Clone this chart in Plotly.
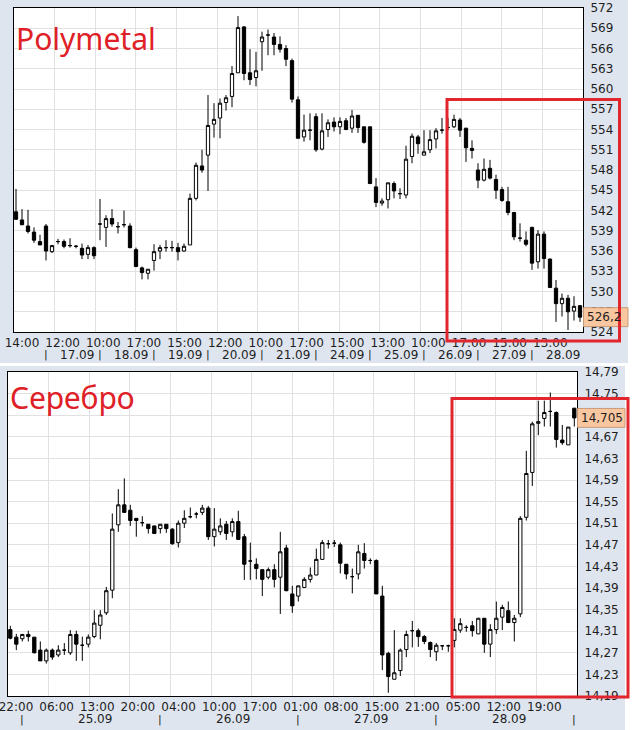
import plotly.graph_objects as go
import numpy as np

W, H = 637, 730

# ---------------- Polymetal (hourly candles) ----------------
poly_open = [541.8, 540.6, 539.7, 538.8, 537.4, 539.7, 535.9, 537.4, 537.4, 536.8,
             536.7, 536.4, 535.5, 536.5, 540.0, 539.5, 540.8, 539.6, 539.9, 539.7,
             536.2, 533.5, 532.7, 534.6, 536.0, 536.5, 536.5, 536.5, 536.0, 536.9,
             543.8, 548.6, 550.2, 554.8, 555.7, 558.0, 558.9, 562.4, 569.2, 562.4,
             561.7, 567.0, 568.0, 567.7, 566.6, 566.0, 564.2, 558.4, 552.9, 553.9,
             555.9, 551.1, 554.0, 555.1, 554.4, 555.3, 554.2, 556.1, 554.4, 554.4,
             545.5, 543.1, 543.6, 546.0, 544.5, 544.3, 550.0, 552.9, 550.2, 551.0,
             552.6, 553.9, 554.3, 554.4, 555.4, 554.2, 551.2, 548.0, 546.5, 548.25,
             546.6, 545.1, 543.3, 541.7, 537.9, 537.6, 539.5, 534.4, 538.5, 534.8,
             530.5, 528.2, 529.0, 527.1, 527.9]
poly_high = [545.2, 542.2, 542.1, 539.5, 538.4, 540.0, 536.9, 537.8, 537.7, 537.9,
             536.9, 537.1, 536.9, 536.7, 543.7, 541.3, 542.2, 540.3, 542.0, 540.1,
             536.5, 533.7, 533.3, 537.0, 536.9, 537.6, 537.5, 537.2, 537.1, 544.5,
             549.1, 551.0, 559.1, 557.9, 558.6, 559.1, 563.4, 570.8, 569.3, 565.9,
             565.5, 568.5, 568.8, 568.3, 567.8, 566.5, 564.5, 558.9, 556.2, 556.4,
             556.4, 556.4, 555.5, 555.8, 555.8, 555.7, 556.9, 556.1, 554.4, 554.4,
             546.8, 543.8, 546.1, 546.3, 545.3, 551.6, 553.4, 553.2, 553.9, 553.9,
             554.2, 555.7, 555.7, 556.2, 555.7, 554.2, 552.4, 549.0, 549.7, 549.5,
             547.3, 545.5, 545.5, 541.8, 540.1, 538.9, 539.6, 539.1, 538.9, 534.9,
             531.7, 529.7, 529.5, 529.3, 528.0]
poly_low = [540.6, 539.8, 538.6, 537.2, 536.9, 534.6, 535.7, 537.0, 536.4, 536.5,
            536.4, 534.8, 534.8, 534.8, 537.6, 536.6, 539.6, 538.6, 539.5, 536.4,
            533.6, 531.8, 531.8, 533.1, 534.8, 535.9, 535.9, 534.6, 535.9, 536.9,
            543.5, 547.6, 544.9, 552.8, 552.7, 556.8, 557.3, 562.4, 561.3, 560.6,
            560.4, 562.7, 565.0, 565.0, 565.4, 563.4, 558.0, 552.7, 552.2, 552.4,
            550.7, 550.9, 552.9, 553.7, 553.3, 553.9, 553.5, 553.5, 551.9, 545.9,
            542.5, 542.7, 542.3, 543.8, 543.7, 543.8, 549.0, 550.4, 550.2, 550.5,
            551.2, 553.4, 553.9, 554.2, 552.9, 549.2, 549.7, 545.3, 546.3, 546.6,
            543.7, 543.3, 541.3, 537.6, 537.4, 536.7, 533.2, 533.4, 533.4, 530.5,
            525.5, 526.3, 524.3, 525.7, 525.5]
poly_close = [540.7, 539.9, 538.9, 537.6, 536.9, 536.0, 536.8, 537.4, 536.7, 536.8,
              536.7, 535.4, 536.5, 535.3, 540.0, 540.8, 540.0, 539.6, 539.9, 536.5,
              533.7, 532.8, 533.3, 535.9, 536.5, 536.5, 536.5, 535.9, 536.7, 543.8,
              548.7, 548.0, 554.6, 555.5, 557.9, 558.7, 562.3, 569.1, 562.3, 561.4,
              562.7, 567.7, 568.0, 566.6, 565.9, 564.4, 558.5, 552.7, 553.9, 553.9,
              551.0, 553.8, 555.0, 554.4, 555.2, 554.0, 556.0, 554.3, 552.1, 546.0,
              543.2, 543.4, 546.1, 544.9, 544.5, 549.6, 553.0, 551.9, 550.7, 552.5,
              553.8, 553.9, 554.3, 555.5, 553.9, 551.3, 550.9, 546.5, 548.1, 546.8,
              545.0, 543.5, 541.7, 538.1, 537.9, 537.0, 534.2, 538.5, 534.9, 530.6,
              528.2, 529.0, 527.0, 527.8, 526.2]
poly_times = ["14:00", "12:00", "10:00", "17:00", "15:00", "12:00", "10:00",
              "17:00", "15:00", "13:00", "10:00", "17:00", "15:00", "13:00"]
poly_days = ["17.09", "18.09", "19.09", "20.09", "21.09", "24.09",
             "25.09", "26.09", "27.09", "28.09"]
poly_day_start = [5, 14, 23, 32, 41, 50, 59, 68, 77, 86]

# ---------------- Silver (hourly candles) ----------------
silv_open = [14.313, 14.299, 14.296, 14.304, 14.299, 14.275, 14.255, 14.275, 14.266, 14.275,
             14.270, 14.304, 14.284, 14.286, 14.300, 14.321, 14.344, 14.386, 14.507, 14.544,
             14.534, 14.519, 14.511, 14.508, 14.505, 14.500, 14.508, 14.499, 14.474, 14.510,
             14.522, 14.527, 14.530, 14.538, 14.485, 14.494, 14.508, 14.494, 14.513, 14.485,
             14.440, 14.434, 14.424, 14.410, 14.424, 14.410, 14.464, 14.379, 14.375, 14.391,
             14.406, 14.414, 14.443, 14.472, 14.473, 14.470, 14.434, 14.411, 14.416, 14.454,
             14.441, 14.441, 14.375, 14.269, 14.221, 14.237, 14.276, 14.311, 14.311, 14.300,
             14.289, 14.272, 14.283, 14.283, 14.293, 14.312, 14.317, 14.320, 14.305, 14.334,
             14.286, 14.313, 14.336, 14.348, 14.326, 14.342, 14.521, 14.604, 14.695, 14.704,
             14.717, 14.715, 14.664, 14.655, 14.723]
silv_high = [14.320, 14.305, 14.305, 14.311, 14.299, 14.291, 14.278, 14.278, 14.284, 14.288,
             14.312, 14.311, 14.300, 14.304, 14.349, 14.349, 14.392, 14.528, 14.573, 14.593,
             14.544, 14.519, 14.523, 14.508, 14.505, 14.508, 14.508, 14.501, 14.515, 14.534,
             14.539, 14.531, 14.544, 14.542, 14.538, 14.519, 14.514, 14.519, 14.533, 14.490,
             14.474, 14.445, 14.424, 14.428, 14.434, 14.494, 14.470, 14.394, 14.394, 14.410,
             14.428, 14.463, 14.479, 14.479, 14.479, 14.474, 14.434, 14.426, 14.470, 14.473,
             14.445, 14.443, 14.394, 14.272, 14.312, 14.278, 14.311, 14.329, 14.315, 14.303,
             14.291, 14.288, 14.284, 14.285, 14.334, 14.334, 14.321, 14.329, 14.334, 14.334,
             14.323, 14.365, 14.359, 14.365, 14.340, 14.523, 14.644, 14.698, 14.737, 14.737,
             14.752, 14.717, 14.692, 14.688, 14.723]
silv_low = [14.295, 14.275, 14.291, 14.291, 14.269, 14.255, 14.250, 14.257, 14.262, 14.266,
            14.266, 14.255, 14.255, 14.280, 14.297, 14.295, 14.340, 14.371, 14.494, 14.530,
            14.505, 14.485, 14.504, 14.491, 14.490, 14.491, 14.492, 14.470, 14.465, 14.501,
            14.519, 14.519, 14.525, 14.479, 14.467, 14.488, 14.479, 14.485, 14.479, 14.405,
            14.405, 14.406, 14.375, 14.406, 14.391, 14.342, 14.384, 14.344, 14.365, 14.391,
            14.400, 14.414, 14.442, 14.463, 14.466, 14.417, 14.406, 14.380, 14.406, 14.426,
            14.434, 14.379, 14.238, 14.196, 14.221, 14.227, 14.262, 14.280, 14.281, 14.286,
            14.262, 14.255, 14.275, 14.272, 14.280, 14.307, 14.309, 14.300, 14.305, 14.270,
            14.262, 14.305, 14.312, 14.325, 14.291, 14.336, 14.515, 14.579, 14.673, 14.689,
            14.689, 14.650, 14.655, 14.655, 14.689]
silv_close = [14.297, 14.286, 14.304, 14.300, 14.270, 14.255, 14.275, 14.262, 14.275, 14.275,
              14.304, 14.286, 14.284, 14.299, 14.325, 14.340, 14.385, 14.499, 14.544, 14.530,
              14.515, 14.515, 14.511, 14.500, 14.491, 14.508, 14.500, 14.472, 14.510, 14.519,
              14.522, 14.527, 14.538, 14.485, 14.499, 14.505, 14.491, 14.513, 14.480, 14.434,
              14.440, 14.426, 14.406, 14.424, 14.406, 14.457, 14.385, 14.357, 14.394, 14.406,
              14.414, 14.443, 14.474, 14.472, 14.473, 14.436, 14.416, 14.411, 14.457, 14.441,
              14.441, 14.379, 14.266, 14.226, 14.233, 14.275, 14.304, 14.311, 14.300, 14.291,
              14.276, 14.284, 14.283, 14.283, 14.313, 14.324, 14.317, 14.311, 14.334, 14.286,
              14.313, 14.334, 14.354, 14.326, 14.334, 14.519, 14.602, 14.694, 14.698, 14.715,
              14.717, 14.665, 14.659, 14.688, 14.705]
silv_times = ["22:00", "06:00", "13:00", "20:00", "04:00", "10:00", "17:00",
              "01:00", "08:00", "15:00", "21:00", "05:00", "12:00", "19:00"]
silv_days = ["25.09", "26.09", "27.09", "28.09"]
silv_day_start = [2, 25, 48, 71, 94]

# ---------------- styling ----------------
PANEL = "#dee5ef"
GRID = "#e1e1e1"
RED = "#e2262d"
TXT = "#1e1e1e"
FONT = "DejaVu Sans"


def px(x):
    return x / W


def py(y):
    return 1 - y / H


fig = go.Figure()

candle_style = dict(
    increasing=dict(line=dict(color="black", width=1), fillcolor="white"),
    decreasing=dict(line=dict(color="black", width=1), fillcolor="black"),
    whiskerwidth=0,
    hoverinfo="skip",
)

xi_p = list(range(len(poly_open)))
xi_s = list(range(len(silv_open)))

fig.add_trace(go.Candlestick(x=xi_p, open=poly_open, high=poly_high, low=poly_low,
                             close=poly_close, xaxis="x", yaxis="y", **candle_style))
fig.add_trace(go.Candlestick(x=xi_s, open=silv_open, high=silv_high, low=silv_low,
                             close=silv_close, xaxis="x2", yaxis="y2", **candle_style))

# x ranges (candle index units), plot pixel layout
rng_p = [-0.333, 94.5]
rng_s = [-0.383, 94.45]


def xgrid(rng, n_lab):
    edges = np.linspace(rng[0], rng[1], n_lab + 1)
    grid = edges[1:-1]
    labs = edges[:-1] + 1.33
    return list(grid), list(labs)


grid_p, lab_p = xgrid(rng_p, len(poly_times))
grid_s, lab_s = xgrid(rng_s, len(silv_times))

axfont = dict(family=FONT, size=12, color=TXT)

common_x = dict(showgrid=False, showline=True, mirror=True, linecolor="black",
                linewidth=1, ticks="", tickfont=axfont, zeroline=False,
                rangeslider=dict(visible=False), fixedrange=True, automargin=False,
                ticklabeloverflow="allow")
common_y = dict(showgrid=True, gridcolor=GRID, gridwidth=1, showline=True, mirror=True,
                linecolor="black", linewidth=1, ticks="", side="right",
                tickfont=axfont, zeroline=False, fixedrange=True, ticklabelstandoff=4,
                automargin=False)

fig.update_layout(
    width=W, height=H, autosize=False,
    margin=dict(l=0, r=0, t=0, b=0, pad=0, autoexpand=False),
    paper_bgcolor=PANEL, plot_bgcolor="white",
    showlegend=False, separators=", ", boxgap=0.22,
    xaxis=dict(domain=[px(14), px(583)], range=rng_p, anchor="y",
               tickmode="array", tickvals=lab_p, ticktext=poly_times,
               minor=dict(tickmode="array", tickvals=grid_p, showgrid=True,
                          gridcolor=GRID, ticks=""),
               **common_x),
    yaxis=dict(domain=[py(332), py(8)], range=[524, 572], anchor="x",
               tickmode="linear", tick0=524, dtick=3, **common_y),
    xaxis2=dict(domain=[px(8), px(577)], range=rng_s, anchor="y2",
                tickmode="array", tickvals=lab_s, ticktext=silv_times,
                minor=dict(tickmode="array", tickvals=grid_s, showgrid=True,
                           gridcolor=GRID, ticks=""),
                **common_x),
    yaxis2=dict(domain=[py(696), py(372)], range=[14.19, 14.79], anchor="x2",
                tickmode="linear", tick0=14.19, dtick=0.04, tickformat=".2f", **common_y),
)

shapes = []
# white strips around the two panels
shapes.append(dict(type="rect", xref="paper", yref="paper", x0=px(628), x1=1, y0=py(363), y1=1,
                   fillcolor="white", line=dict(width=0), layer="below"))
shapes.append(dict(type="rect", xref="paper", yref="paper", x0=px(625), x1=1, y0=0, y1=py(366),
                   fillcolor="white", line=dict(width=0), layer="below"))
shapes.append(dict(type="rect", xref="paper", yref="paper", x0=0, x1=1, y0=py(366), y1=py(363),
                   fillcolor="white", line=dict(width=0), layer="below"))

# last-price boxes
shapes.append(dict(type="rect", xref="paper", yref="y", x0=px(583.5), x1=px(628),
                   y0=poly_close[-1] - 1.4, y1=poly_close[-1] + 1.4,
                   fillcolor="#f8c7a0", line=dict(color="#c99a78", width=1), layer="above"))
shapes.append(dict(type="rect", xref="paper", yref="y2", x0=px(577.5), x1=px(625),
                   y0=silv_close[-1] - 0.0175, y1=silv_close[-1] + 0.0175,
                   fillcolor="#f8c7a0", line=dict(color="#c99a78", width=1), layer="above"))

# red highlight frames
shapes.append(dict(type="rect", xref="paper", yref="paper", x0=px(447), x1=px(619.5),
                   y0=py(341), y1=py(99.5), line=dict(color=RED, width=3), layer="above"))
shapes.append(dict(type="rect", xref="paper", yref="paper", x0=px(452), x1=px(628),
                   y0=py(697), y1=py(398.5), line=dict(color=RED, width=3), layer="above"))

annotations = []
# titles
annotations.append(dict(text="Polymetal", xref="paper", yref="paper", x=px(14), y=py(38),
                        xanchor="left", yanchor="middle", showarrow=False,
                        font=dict(family="Noto Sans", size=30, color="#e02027")))
annotations.append(dict(text="Серебро", xref="paper", yref="paper", x=px(8), y=py(397),
                        xanchor="left", yanchor="middle", showarrow=False,
                        font=dict(family="Noto Sans", size=30, color="#e02027")))

# last price labels
annotations.append(dict(text=f"{poly_close[-1]:.1f}".replace(".", ","), xref="paper", yref="y",
                        x=px(585), y=poly_close[-1], xanchor="left", yanchor="middle",
                        showarrow=False, font=axfont))
annotations.append(dict(text=f"{silv_close[-1]:.3f}".replace(".", ","), xref="paper", yref="y2",
                        x=px(579), y=silv_close[-1], xanchor="left", yanchor="middle",
                        showarrow=False, font=axfont))


def day_row(xref, starts, days, yrow, last_width):
    out = []
    for s in starts:
        out.append(dict(text="|", xref=xref, yref="paper", x=s, y=yrow, xanchor="center",
                        yanchor="middle", showarrow=False,
                        font=dict(family=FONT, size=11, color=TXT)))
    for k, d in enumerate(days):
        a = starts[k]
        b = starts[k + 1] if k + 1 < len(starts) else starts[k] + last_width
        out.append(dict(text=d, xref=xref, yref="paper", x=(a + b) / 2 + 0.6, y=yrow,
                        xanchor="center", yanchor="middle", showarrow=False, font=axfont))
    return out


annotations += day_row("x", poly_day_start, poly_days, py(355), 9)
annotations += day_row("x2", silv_day_start, silv_days, py(719), 23)

fig.update_layout(shapes=shapes, annotations=annotations)

fig.write_html("out.html", config={"displayModeBar": False, "responsive": False},
               post_script="document.body.style.margin='0';document.body.style.overflow='hidden';")
